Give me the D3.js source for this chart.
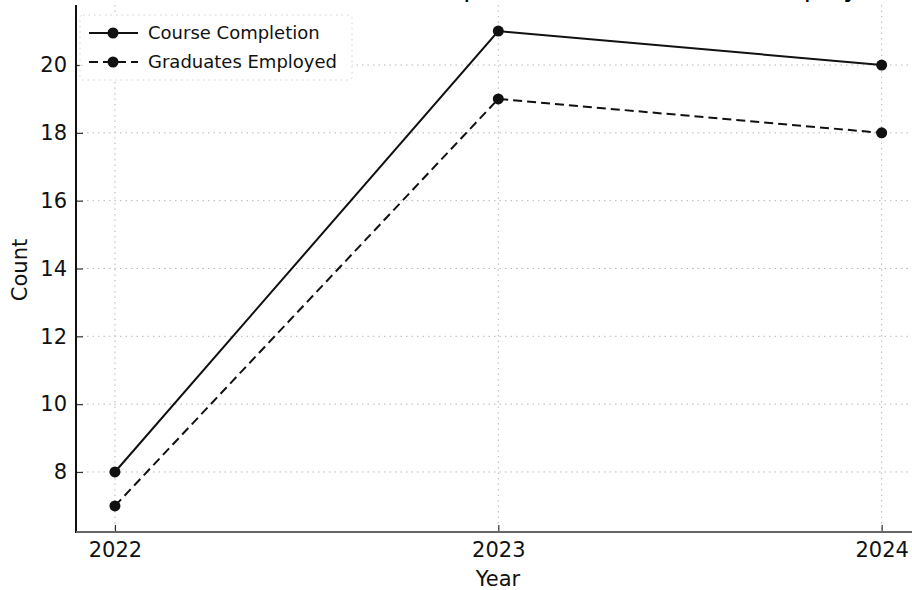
<!DOCTYPE html>
<html>
<head>
<meta charset="utf-8">
<script src="https://cdn.jsdelivr.net/npm/d3@7"></script>
<style>
  html, body { margin: 0; padding: 0; background: #fff; }
  svg { display: block; font-family: "DejaVu Sans", sans-serif; }
</style>
</head>
<body>
<svg id="chart" width="912" height="590"></svg>
<script>
const years = [2022, 2023, 2024];
const courseCompletion = [8, 21, 20];
const graduatesEmployed = [7, 19, 18];
const yTicks = [8, 10, 12, 14, 16, 18, 20];
const seriesNames = ["Course Completion", "Graduates Employed"];
const titleText = "Course Completion and Graduates Employed";

const svg = d3.select("#chart");
const W = 912, H = 590;

const x = d3.scaleLinear().domain([2021.9, 2024.1]).range([76.6, 920]);
const y = d3.scaleLinear().domain([6.23, 21.77]).range([532, 5]);

// title (mostly cropped off at top, as in the reference)
svg.append("text")
  .attr("x", 598).attr("y", -4)
  .attr("text-anchor", "middle")
  .attr("font-size", 26)
  .attr("fill", "#000")
  .text(titleText);

const grid = svg.append("g");
grid.selectAll("line.h").data(yTicks).join("line")
  .attr("x1", 76).attr("x2", W)
  .attr("y1", d => y(d)).attr("y2", d => y(d))
  .attr("stroke", "#b8b8b8").attr("stroke-width", 1)
  .attr("stroke-dasharray", "1.5,4");
grid.selectAll("line.v").data(years).join("line")
  .attr("y1", 5).attr("y2", 532)
  .attr("x1", d => x(d)).attr("x2", d => x(d))
  .attr("stroke", "#b8b8b8").attr("stroke-width", 1)
  .attr("stroke-dasharray", "1.5,4");

const yAxis = d3.axisLeft(y).tickValues(yTicks).tickSize(-7).tickPadding(9).tickFormat(d3.format("d"));
const gy = svg.append("g").attr("transform", "translate(76,0)").call(yAxis);
gy.select(".domain").remove();
gy.selectAll(".tick line").attr("stroke", "#333").attr("stroke-width", 1.2);
gy.selectAll(".tick text").attr("font-size", 21).attr("fill", "#111")
  .attr("font-family", "DejaVu Sans");

const xAxis = d3.axisBottom(x).tickValues(years).tickSize(-7).tickPadding(10).tickFormat(d3.format("d"));
const gx = svg.append("g").attr("transform", "translate(0,532)").call(xAxis);
gx.select(".domain").remove();
gx.selectAll(".tick line").attr("stroke", "#333").attr("stroke-width", 1.2);
gx.selectAll(".tick text").attr("font-size", 21).attr("fill", "#111")
  .attr("font-family", "DejaVu Sans");

svg.append("line").attr("x1", 76).attr("x2", 76).attr("y1", 5).attr("y2", 533)
  .attr("stroke", "#111").attr("stroke-width", 2);
svg.append("line").attr("x1", 76).attr("x2", W).attr("y1", 532).attr("y2", 532)
  .attr("stroke", "#666").attr("stroke-width", 2);

svg.append("text").attr("x", 498).attr("y", 586).attr("text-anchor", "middle")
  .attr("font-size", 21).attr("fill", "#111").text("Year");
svg.append("text").attr("transform", "translate(27,270) rotate(-90)")
  .attr("text-anchor", "middle").attr("font-size", 21).attr("fill", "#111").text("Count");

const series = [
  { name: seriesNames[0], values: courseCompletion, dash: null },
  { name: seriesNames[1], values: graduatesEmployed, dash: "9,5" }
];
const line = d3.line().x((d, i) => x(years[i])).y(d => y(d));
series.forEach(s => {
  svg.append("path").datum(s.values)
    .attr("d", line)
    .attr("fill", "none").attr("stroke", "#111").attr("stroke-width", 2)
    .attr("stroke-dasharray", s.dash);
  svg.append("g").selectAll("circle").data(s.values).join("circle")
    .attr("cx", (d, i) => x(years[i])).attr("cy", d => y(d))
    .attr("r", 5.5).attr("fill", "#111");
});

const lg = svg.append("g");
lg.append("rect").attr("x", 80).attr("y", 15).attr("width", 272).attr("height", 65)
  .attr("rx", 3).attr("fill", "rgba(255,255,255,0.85)")
  .attr("stroke", "#cfcfcf").attr("stroke-width", 1).attr("stroke-dasharray", "1.5,4");
series.forEach((s, i) => {
  const cy = 33 + i * 29;
  lg.append("line").attr("x1", 89).attr("x2", 138).attr("y1", cy).attr("y2", cy)
    .attr("stroke", "#111").attr("stroke-width", 2).attr("stroke-dasharray", s.dash);
  lg.append("circle").attr("cx", 113).attr("cy", cy).attr("r", 5.5).attr("fill", "#111");
  lg.append("text").attr("x", 148).attr("y", cy).attr("dy", "0.35em")
    .attr("font-size", 18).attr("fill", "#111").text(s.name);
});
</script>
</body>
</html>
